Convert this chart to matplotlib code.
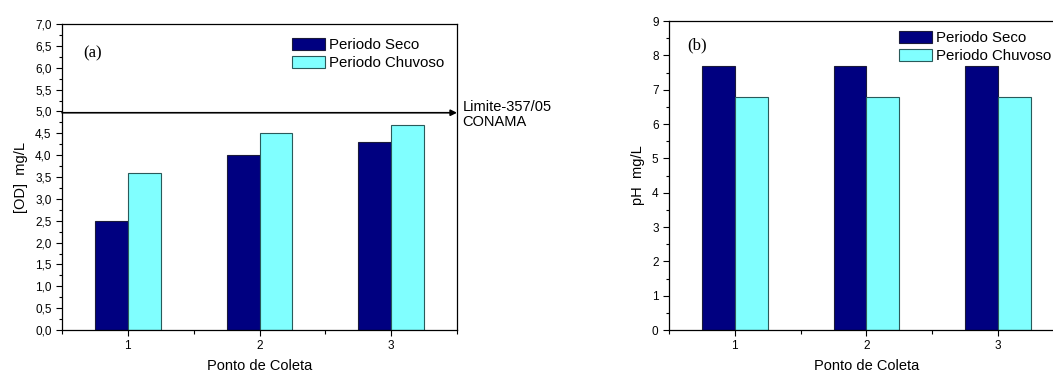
import matplotlib.pyplot as plt
import numpy as np
from matplotlib.ticker import MultipleLocator, FuncFormatter

plt.rcParams['font.family'] = ['Liberation Sans', 'DejaVu Sans']

pontos = [1, 2, 3]
od_seco = [2.5, 4.0, 4.3]
od_chuvoso = [3.6, 4.5, 4.7]
ph_seco = [7.7, 7.7, 7.7]
ph_chuvoso = [6.8, 6.8, 6.8]
limite_od = 4.97

cor_seco = '#000080'
cor_chuvoso = '#80ffff'
w = 0.25

fig = plt.figure(figsize=(10.53, 3.74), dpi=100)
ax1 = fig.add_axes([0.0589, 0.1176, 0.3751, 0.8182])
ax2 = fig.add_axes([0.6353, 0.1176, 0.3751, 0.8262])


def style_axis(ax):
    x = np.array(pontos)
    ax.set_xlim(0.5, 3.5)
    ax.set_xticks(pontos)
    ax.xaxis.set_minor_locator(MultipleLocator(0.5))
    ax.tick_params(which='both', direction='out', labelsize=8.5, width=0.8)
    ax.tick_params(which='major', length=4)
    ax.tick_params(which='minor', length=2.5)
    ax.tick_params(axis='x', which='minor', length=3)
    for s in ax.spines.values():
        s.set_linewidth(0.9)
    ax.set_xlabel('Ponto de Coleta', fontsize=10.5, labelpad=5)
    return x


def legenda(ax, y0):
    ax.legend(loc='upper left', bbox_to_anchor=(0.583, y0), frameon=False, fontsize=10.8,
              handlelength=2.2, handleheight=0.9, handletextpad=0.25, labelspacing=0.25,
              borderaxespad=0, borderpad=0)


x = style_axis(ax1)
ax1.bar(x - w / 2, od_seco, w, color=cor_seco, edgecolor='#1a1a3a', linewidth=0.8, label='Periodo Seco')
ax1.bar(x + w / 2, od_chuvoso, w, color=cor_chuvoso, edgecolor='#2a5a5a', linewidth=0.8, label='Periodo Chuvoso')
ax1.set_ylim(0, 7)
ax1.yaxis.set_major_locator(MultipleLocator(0.5))
ax1.yaxis.set_minor_locator(MultipleLocator(0.25))
ax1.yaxis.set_major_formatter(FuncFormatter(lambda v, p: f'{v:.1f}'.replace('.', ',')))
ax1.set_ylabel('[OD]  mg/L', fontsize=10.5, labelpad=5)
ax1.text(0.66, 6.32, '(a)', family='Liberation Serif', fontsize=12, va='center')
ax1.annotate('', xy=(3.5, limite_od), xytext=(0.5, limite_od),
             arrowprops=dict(arrowstyle='-|>', color='black', lw=1.2, mutation_scale=9,
                             shrinkA=0, shrinkB=0), annotation_clip=False)
ax1.text(3.54, limite_od - 0.05, 'Limite-357/05\nCONAMA', fontsize=10.5, va='center',
         linespacing=1.1, clip_on=False)
legenda(ax1, 0.955)

x = style_axis(ax2)
ax2.bar(x - w / 2, ph_seco, w, color=cor_seco, edgecolor='#1a1a3a', linewidth=0.8, label='Periodo Seco')
ax2.bar(x + w / 2, ph_chuvoso, w, color=cor_chuvoso, edgecolor='#2a5a5a', linewidth=0.8, label='Periodo Chuvoso')
ax2.set_ylim(0, 9)
ax2.yaxis.set_major_locator(MultipleLocator(1))
ax2.yaxis.set_minor_locator(MultipleLocator(0.5))
ax2.set_ylabel('pH  mg/L', fontsize=10.5, labelpad=5)
ax2.text(0.637, 8.28, '(b)', family='Liberation Serif', fontsize=12, va='center')
legenda(ax2, 0.969)

fig.savefig('out.png', dpi=100)
